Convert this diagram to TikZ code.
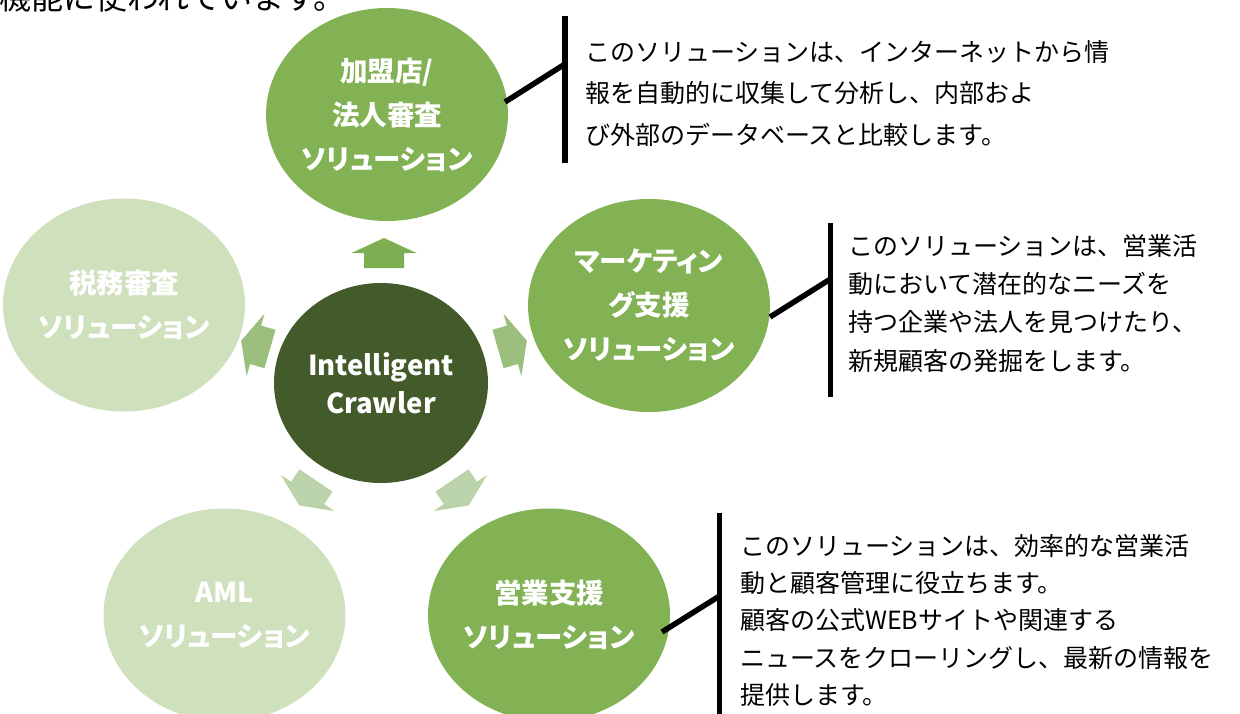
\documentclass[tikz,border=0pt]{standalone}
\usepackage{fontspec}
\setmainfont{Noto Sans CJK JP}
\newfontfamily\labfont{Noto Sans CJK JP}[RawFeature=+palt]
\usetikzlibrary{shapes.geometric}
\definecolor{gmed}{HTML}{82B254}
\definecolor{glight}{HTML}{CFE0BD}
\definecolor{gdark}{HTML}{435A2B}
\definecolor{aup}{HTML}{7EAE52}
\definecolor{aside}{HTML}{9CBF7D}
\definecolor{abot}{HTML}{BBD3AA}
\tikzset{
  bubble/.style={ellipse, inner sep=0pt, minimum width=228pt, minimum height=213pt,
    text=white, align=center, font=\labfont\bfseries\fontsize{27.5}{44}\selectfont},
  core/.style={ellipse, inner sep=0pt, minimum width=214pt, minimum height=200pt, fill=gdark,
    text=white, align=center, font=\labfont\bfseries\fontsize{27.5}{38}\selectfont},
  callbar/.style={line width=5.5pt, black},
  calltext/.style={anchor=north west, inner sep=0pt, align=left, text=black},
  blockarrow/.pic={\fill[pic actions] (0,-20) -- (15,-20) -- (15,-32.5) -- (30,0) -- (15,32.5) -- (15,20) -- (0,20) -- cycle;}
}
\begin{document}
\begin{tikzpicture}[x=1pt,y=-1pt]
\useasboundingbox (0,0) rectangle (1240,713);
\fill[white] (0,0) rectangle (1240,713);

% heading text, cut off at the top edge as in the source
\node[anchor=east, inner sep=0pt, font=\fontsize{32}{34}\selectfont] (head) at (346,-2.5) {機能に使われています。};

% bubbles
\node[bubble, fill=gmed] (kamei) at (387,114.5) {加盟店/\\法人審査\\ソリューション};
\node[bubble, fill=gmed] (mkt) at (649,305.5) {マーケティン\\グ支援\\ソリューション};
\node[bubble, fill=glight] (tax) at (124,305) {税務審査\\ソリューション};
\node[bubble, fill=glight] (aml) at (224.5,615) {AML\\ソリューション};
\node[bubble, fill=gmed] (sales) at (549,615) {営業支援\\ソリューション};
\node[core] (crawler) at (381,383) {Intelligent\\Crawler};

% block arrows
\pic[fill=aup] at (384,268) [rotate=90] {blockarrow};
\pic[fill=aside] at (498,349) [rotate=16] {blockarrow};
\pic[fill=aside] at (270,349) [rotate=164] {blockarrow};
\pic[fill=abot] at (452,480.5) [rotate=-56] {blockarrow};
\pic[fill=abot] at (316,480.5) [rotate=-124] {blockarrow};

% callout 1
\coordinate (b1t) at (565,16);
\coordinate (b1b) at (565,163);
\coordinate (b1j) at (565,64);
\coordinate (b1s) at (505,102);
\draw[callbar] (b1t) -- (b1b);
\draw[callbar] (b1s) -- (b1j);
\node[calltext, font=\fontsize{25}{41.5}\selectfont] (t1) at (585,40)
  {このソリューションは、インターネットから情\\報を自動的に収集して分析し、内部およ\\び外部のデータベースと比較します。};

% callout 2
\coordinate (b2t) at (830.5,223);
\coordinate (b2b) at (830.5,397);
\coordinate (b2j) at (830.5,279);
\coordinate (b2s) at (770,317);
\draw[callbar] (b2t) -- (b2b);
\draw[callbar] (b2s) -- (b2j);
\node[calltext, font=\fontsize{25}{38.3}\selectfont] (t2) at (848,234)
  {このソリューションは、営業活\\動において潜在的なニーズを\\持つ企業や法人を見つけたり、\\新規顧客の発掘をします。};

% callout 3
\coordinate (b3t) at (719.5,513);
\coordinate (b3b) at (719.5,716);
\coordinate (b3j) at (719.5,596);
\coordinate (b3s) at (662,632);
\draw[callbar] (b3t) -- (b3b);
\draw[callbar] (b3s) -- (b3j);
\node[calltext, font=\fontsize{25}{37.3}\selectfont] (t3) at (740,534)
  {このソリューションは、効率的な営業活\\動と顧客管理に役立ちます。\\顧客の公式WEBサイトや関連する\\ニュースをクローリングし、最新の情報を\\提供します。};
\end{tikzpicture}
\end{document}
